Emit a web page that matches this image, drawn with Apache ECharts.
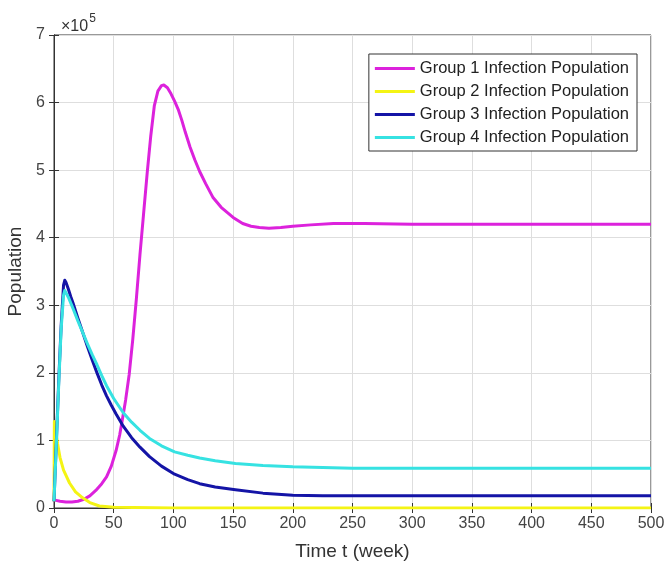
<!DOCTYPE html>
<html>
<head>
<meta charset="utf-8">
<script src="https://cdn.jsdelivr.net/npm/echarts@6/dist/echarts.min.js"></script>
<style>
  html, body { margin: 0; padding: 0; background: #fff; }
  #main { width: 665px; height: 566px; }
</style>
</head>
<body>
<div id="main"></div>
<script>
// values are in units of 1e5
var seriesNames = ['Group 1 Infection Population', 'Group 2 Infection Population',
                   'Group 3 Infection Population', 'Group 4 Infection Population']
var colors = ['#dc22dc', '#f4f414', '#1414a6', '#36e2e2']

var group1 = [[0, 0.12], [5, 0.1], [10, 0.09], [15, 0.09], [20, 0.1], [25, 0.13], [30, 0.18],
  [35, 0.26], [40, 0.36], [44, 0.46], [48, 0.62], [52, 0.85], [55, 1.08], [57, 1.28], [60, 1.6],
  [63, 1.98], [66, 2.5], [69, 3.1], [72, 3.75], [75, 4.35], [78, 4.95], [81, 5.5], [84, 5.95],
  [87, 6.17], [90, 6.25], [92, 6.26], [95, 6.22], [98, 6.13], [101, 6.02], [104, 5.9],
  [107, 5.74], [110, 5.56], [114, 5.34], [118, 5.15], [122, 4.98], [127, 4.8], [133, 4.6],
  [140, 4.45], [150, 4.3], [158, 4.21], [165, 4.17], [172, 4.15], [180, 4.14], [190, 4.15],
  [200, 4.17], [215, 4.19], [234, 4.21], [260, 4.21], [300, 4.2], [400, 4.2], [500, 4.2]]
var group2 = [[0, 0.1], [0.3, 1.28], [1, 1.2], [3, 0.95], [5, 0.75], [8, 0.56], [13, 0.37],
  [18, 0.24], [24, 0.15], [30, 0.08], [38, 0.03], [50, 0.01], [100, 0], [500, 0]]
var group3 = [[0, 0.1], [2, 1.0], [4, 1.9], [6, 2.7], [8, 3.3], [9, 3.37], [10, 3.34],
  [12, 3.24], [14, 3.13], [16, 3.03], [18, 2.92], [20, 2.81], [24, 2.6], [28, 2.39], [32, 2.19],
  [36, 2.0], [40, 1.82], [44, 1.66], [48, 1.52], [52, 1.39], [58, 1.21], [65, 1.04], [72, 0.9],
  [80, 0.76], [90, 0.62], [101, 0.5], [112, 0.42], [122, 0.36], [135, 0.31], [152, 0.27],
  [175, 0.22], [200, 0.19], [225, 0.18], [250, 0.18], [350, 0.18], [500, 0.18]]
var group4 = [[0, 0.1], [2, 0.95], [4, 1.85], [6, 2.65], [8, 3.15], [9, 3.22], [10, 3.2],
  [12, 3.12], [16, 2.95], [20, 2.77], [24, 2.6], [28, 2.43], [32, 2.27], [36, 2.12], [40, 1.96],
  [44, 1.81], [50, 1.62], [58, 1.41], [65, 1.27], [72, 1.15], [80, 1.03], [90, 0.92],
  [101, 0.83], [112, 0.78], [122, 0.74], [135, 0.7], [152, 0.66], [175, 0.63], [200, 0.61],
  [225, 0.6], [250, 0.59], [350, 0.59], [500, 0.59]]

var allData = [group1, group2, group3, group4]

var FONT = 'Liberation Sans, Arial, sans-serif'
var myChart = echarts.init(document.getElementById('main'))

var tickStyle = { inside: true, length: 5, lineStyle: { color: '#333' } }
var series = allData.map(function (d, i) {
  return {
    name: seriesNames[i],
    type: 'line',
    data: d,
    showSymbol: false,
    symbol: 'none',
    lineStyle: { width: 3, color: colors[i], join: 'round' },
    itemStyle: { color: colors[i] },
    z: 2 + i
  }
})

var option = {
  backgroundColor: '#fff',
  animation: false,
  textStyle: { fontFamily: FONT },
  title: {
    text: '{a|×10}{b|5}',
    left: 56,
    top: 6,
    textStyle: {
      fontWeight: 'normal',
      rich: {
        a: { fontSize: 16, color: '#333', fontWeight: 'normal', fontFamily: FONT, padding: [8, 0, 0, 0] },
        b: { fontSize: 12, color: '#333', fontWeight: 'normal', fontFamily: FONT, padding: [0, 0, 8, 1] }
      }
    }
  },
  legend: {
    orient: 'vertical',
    right: 28,
    top: 54,
    padding: [6, 8, 5, 6],
    itemGap: 6,
    itemWidth: 40,
    itemHeight: 3,
    icon: 'rect',
    backgroundColor: '#fff',
    borderColor: '#333',
    borderWidth: 1,
    borderRadius: 0,
    textStyle: { fontSize: 16.5, color: '#222', fontFamily: FONT },
    data: seriesNames
  },
  grid: {
    left: 54, right: 14, top: 35, bottom: 58,
    containLabel: false,
    outerBoundsMode: 'none',
    show: true, borderColor: '#333', borderWidth: 1, backgroundColor: '#fff'
  },
  xAxis: [{
    type: 'value',
    min: 0, max: 500, interval: 50,
    name: 'Time t (week)',
    nameLocation: 'middle',
    nameGap: 34,
    nameTextStyle: { fontSize: 19, color: '#333', fontFamily: FONT },
    axisLine: { show: true, lineStyle: { color: '#333' } },
    axisTick: tickStyle,
    axisLabel: { fontSize: 16, color: '#444', margin: 8, fontFamily: FONT },
    splitLine: { show: true, lineStyle: { color: '#dedede' } }
  }, {
    type: 'value', position: 'top',
    min: 0, max: 500, interval: 50,
    axisLine: { show: true, lineStyle: { color: '#333' } },
    axisTick: tickStyle,
    axisLabel: { show: false },
    splitLine: { show: false }
  }],
  yAxis: [{
    type: 'value',
    min: 0, max: 7, interval: 1,
    name: 'Population',
    nameLocation: 'middle',
    nameGap: 27,
    nameTextStyle: { fontSize: 19, color: '#333', fontFamily: FONT },
    axisLine: { show: true, lineStyle: { color: '#333' } },
    axisTick: tickStyle,
    axisLabel: { fontSize: 16, color: '#444', margin: 9, fontFamily: FONT },
    splitLine: { show: true, lineStyle: { color: '#dedede' } }
  }, {
    type: 'value', position: 'right',
    min: 0, max: 7, interval: 1,
    axisLine: { show: true, lineStyle: { color: '#333' } },
    axisTick: tickStyle,
    axisLabel: { show: false },
    splitLine: { show: false }
  }],
  series: series
}

myChart.setOption(option)
</script>
</body>
</html>
